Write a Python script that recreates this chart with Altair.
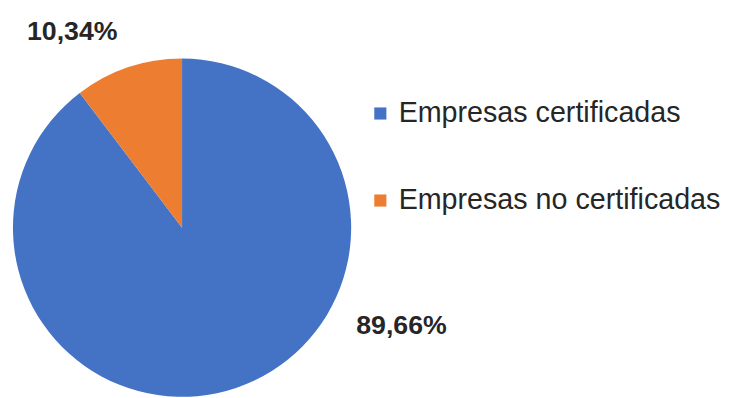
import altair as alt
import pandas as pd

categories = ["Empresas certificadas", "Empresas no certificadas"]
values = [89.66, 10.34]
labels = ["89,66%", "10,34%"]
colors = ["#4472C4", "#ED7D31"]

df = pd.DataFrame({"cat": categories, "val": values, "lab": labels, "ord": [0, 1]})

CX, CY, R = 176, 220, 171

base = alt.Chart(df).encode(
    theta=alt.Theta("val:Q", stack=True),
    order=alt.Order("ord:Q"),
)

pie = base.mark_arc(radius=R).encode(
    x=alt.value(CX),
    y=alt.value(CY),
    color=alt.Color(
        "cat:N",
        scale=alt.Scale(domain=categories, range=colors),
        legend=alt.Legend(
            title=None,
            orient="none",
            legendX=362,
            legendY=90,
            symbolType="square",
            symbolSize=150,
            symbolStrokeWidth=0,
            labelFont="Liberation Sans",
            labelFontSize=29,
            labelColor="#262626",
            labelOffset=4,
            rowPadding=58,
            padding=0,
            labelLimit=400,
        ),
    ),
)

txt_style = dict(font="Liberation Sans", fontSize=27, fontWeight="bold",
                 color="#262626", align="center", baseline="middle")

lab_blue = base.mark_text(radius=244, dx=144, dy=-132, **txt_style).encode(
    x=alt.value(CX), y=alt.value(CY),
    text="lab:N",
    opacity=alt.condition(alt.datum.ord == 0, alt.value(1), alt.value(0)),
)
lab_orange = base.mark_text(radius=229, dx=-38, dy=19, **txt_style).encode(
    x=alt.value(CX), y=alt.value(CY),
    text="lab:N",
    opacity=alt.condition(alt.datum.ord == 1, alt.value(1), alt.value(0)),
)

chart = alt.layer(pie, lab_blue, lab_orange).properties(
    width=723, height=390, autosize=alt.AutoSizeParams(type="none"), padding=0
).configure_view(stroke=None)

chart.save("out.html", embed_options={"renderer": "svg", "actions": False})
